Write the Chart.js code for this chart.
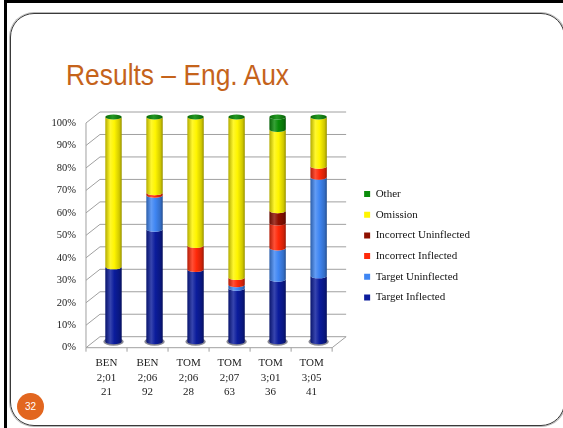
<!DOCTYPE html>
<html>
<head>
<meta charset="utf-8">
<script src="https://cdn.jsdelivr.net/npm/chart.js@4.4.1/dist/chart.umd.min.js"></script>
<style>
  html, body { margin: 0; padding: 0; background: #fff; }
  #slide { position: relative; width: 563px; height: 428px; overflow: hidden; background: #fff; }
  .edge-top { position: absolute; left: 4px; top: 0; width: 559px; height: 3px; background: #000; }
  .edge-left { position: absolute; left: 4px; top: 0; width: 3px; height: 428px; background: #000; }
  .card { position: absolute; left: 10px; top: 13px; width: 555px; height: 413px; box-sizing: border-box;
          border: 1.5px solid #3a3a3a; border-radius: 24px; box-shadow: 0 0 0 1px #b8b8b8; }
  h1 { position: absolute; left: 66px; top: 60px; margin: 0; font: normal 30px/1 "Liberation Sans", sans-serif;
       color: #C5631B; white-space: nowrap; transform: scaleX(0.88); transform-origin: 0 0; }
  .num { position: absolute; left: 17px; top: 393px; width: 27px; height: 27px; border-radius: 50%; background: #E2661F;
         color: #fff; font: 10px/27px "Liberation Sans", sans-serif; text-align: center; }
  canvas { position: absolute; left: 0; top: 0; }
</style>
</head>
<body>
<div id="slide">
  <div class="edge-top"></div>
  <div class="edge-left"></div>
  <div class="card"></div>
  <h1>Results – Eng. Aux</h1>
  <div class="num">32</div>
  <canvas id="chart" width="563" height="428"></canvas>
</div>
<script>
// Children / session / number of contexts
const categories = [
  ['BEN', '2;01', '21'],
  ['BEN', '2;06', '92'],
  ['TOM', '2;06', '28'],
  ['TOM', '2;07', '63'],
  ['TOM', '3;01', '36'],
  ['TOM', '3;05', '41']
];

// Percentage of auxiliary contexts per response type
const targetInflected      = [33.3, 50.0, 32.1, 23.8, 27.8, 29.3];
const targetUninflected    = [0.0, 15.2, 0.0, 1.6, 13.9, 43.9];
const incorrectInflected   = [0.0, 1.1, 10.7, 3.2, 11.1, 4.9];
const incorrectUninflected = [0.0, 0.0, 0.0, 0.0, 5.5, 0.0];
const omission             = [66.7, 33.7, 57.2, 71.4, 36.1, 21.9];
const other                = [0.0, 0.0, 0.0, 0.0, 5.6, 0.0];

const yTickLabels = ['0%', '10%', '20%', '30%', '40%', '50%', '60%', '70%', '80%', '90%', '100%'];

// 3D look: back wall sits behind the front plane, cylinders half way
const WALL_DX = 14, WALL_DY = 11;
const BAR_DX = 7, BAR_DY = 6;
const CAP_RY = 2.5;

function mix(hex, t) {
  const n = parseInt(hex.slice(1), 16);
  const ch = [(n >> 16) & 255, (n >> 8) & 255, n & 255].map(c =>
    Math.round(t > 0 ? c + (255 - c) * t : c * (1 + t)));
  return `rgb(${ch[0]},${ch[1]},${ch[2]})`;
}

function bodyGradient(ctx, cx, rx, color) {
  const g = ctx.createLinearGradient(cx - rx, 0, cx + rx, 0);
  g.addColorStop(0, mix(color, -0.3));
  g.addColorStop(0.3, mix(color, 0.18));
  g.addColorStop(0.55, color);
  g.addColorStop(0.85, mix(color, -0.18));
  g.addColorStop(1, mix(color, -0.4));
  return g;
}

function drawSegment(ctx, cx, w, yTop, yBase, color) {
  const rx = w / 2;
  ctx.beginPath();
  ctx.moveTo(cx - rx, yTop);
  ctx.lineTo(cx - rx, yBase);
  ctx.ellipse(cx, yBase, rx, CAP_RY, 0, Math.PI, 0, true);
  ctx.lineTo(cx + rx, yTop);
  ctx.ellipse(cx, yTop, rx, CAP_RY, 0, 0, Math.PI, false);
  ctx.closePath();
  ctx.fillStyle = bodyGradient(ctx, cx, rx, color);
  ctx.fill();
}

const cylinders3d = {
  id: 'cylinders3d',
  beforeDatasetsDraw(chart) {
    const { ctx, chartArea: a, scales: { x, y } } = chart;
    const y0 = y.getPixelForValue(0);
    ctx.save();

    // back wall gridlines with their slanted returns to the front edge
    ctx.strokeStyle = '#a0a0a0';
    ctx.lineWidth = 1;
    y.ticks.forEach(t => {
      const py = y.getPixelForValue(t.value);
      ctx.beginPath();
      ctx.moveTo(a.left, py);
      ctx.lineTo(a.left + WALL_DX, py - WALL_DY);
      ctx.lineTo(a.right + WALL_DX, py - WALL_DY);
      ctx.stroke();
    });
    // left front edge
    ctx.beginPath();
    ctx.moveTo(a.left, y.getPixelForValue(100));
    ctx.lineTo(a.left, y0);
    ctx.stroke();
    // floor front edge and right return
    ctx.beginPath();
    ctx.moveTo(a.left, y0);
    ctx.lineTo(a.right, y0);
    ctx.lineTo(a.right + WALL_DX, y0 - WALL_DY);
    ctx.stroke();
    // category tick marks under the floor edge
    const n = chart.data.labels.length;
    const step = (x.getPixelForValue(n - 1) - x.getPixelForValue(0)) / (n - 1);
    for (let k = 0; k <= n; k++) {
      const px = x.getPixelForValue(0) - step / 2 + k * step;
      ctx.beginPath();
      ctx.moveTo(px, y0);
      ctx.lineTo(px, y0 + 4);
      ctx.stroke();
    }

    // cylinders
    ctx.translate(BAR_DX, -BAR_DY);
    const sets = chart.data.datasets;
    for (let i = 0; i < n; i++) {
      const first = chart.getDatasetMeta(0).data[i];
      const cx = first.x, w = first.width;
      // shadow on the floor
      ctx.beginPath();
      ctx.ellipse(cx, first.base, w / 2 + 2, CAP_RY + 1.5, 0, 0, Math.PI * 2);
      ctx.fillStyle = 'rgba(40,40,60,0.55)';
      ctx.fill();
      sets.forEach((ds, d) => {
        const el = chart.getDatasetMeta(d).data[i];
        if (Math.abs(el.base - el.y) < 0.01) return;
        drawSegment(ctx, cx, w, el.y, el.base, ds.backgroundColor);
      });
      // top cap
      const last = chart.getDatasetMeta(sets.length - 1).data[i];
      const capColor = sets[sets.length - 1].backgroundColor;
      const g = ctx.createLinearGradient(cx - w / 2, 0, cx + w / 2, 0);
      g.addColorStop(0, mix(capColor, -0.25));
      g.addColorStop(0.45, mix(capColor, 0.1));
      g.addColorStop(1, mix(capColor, -0.3));
      ctx.beginPath();
      ctx.ellipse(cx, last.y, w / 2, CAP_RY, 0, 0, Math.PI * 2);
      ctx.fillStyle = g;
      ctx.fill();
    }
    ctx.restore();
    return false;
  }
};

const serif = '"Liberation Serif", "DejaVu Serif", serif';

new Chart(document.getElementById('chart'), {
  type: 'bar',
  data: {
    labels: categories,
    datasets: [
      { label: 'Target Inflected',      data: targetInflected,      backgroundColor: '#0B1C9C' },
      { label: 'Target Uninflected',    data: targetUninflected,    backgroundColor: '#3F86F3' },
      { label: 'Incorrect Inflected',   data: incorrectInflected,   backgroundColor: '#FF2A0A' },
      { label: 'Incorrect Uninflected', data: incorrectUninflected, backgroundColor: '#8E1000' },
      { label: 'Omission',              data: omission,             backgroundColor: '#FFF500' },
      { label: 'Other',                 data: other,                backgroundColor: '#0A8C0A' }
    ]
  },
  options: {
    responsive: false,
    animation: false,
    barPercentage: 0.5,
    categoryPercentage: 0.8,
    layout: { padding: { left: 41.5, top: 123, right: 83, bottom: 20.4 } },
    plugins: {
      tooltip: { enabled: false },
      legend: {
        position: 'right',
        align: 'start',
        reverse: true,
        maxWidth: 200,
        title: { display: true, text: ' ', font: { size: 10, lineHeight: 1 }, padding: { top: 45.8, bottom: 0 } },
        labels: {
          boxWidth: 6, boxHeight: 6, padding: 9.7,
          color: '#111',
          font: { family: serif, size: 11 }
        }
      }
    },
    scales: {
      x: {
        stacked: true,
        grid: { display: false, drawTicks: false },
        border: { display: false },
        ticks: {
          padding: 8.5, maxRotation: 0, autoSkip: false,
          color: '#222',
          font: { family: serif, size: 11, lineHeight: 1.3 }
        }
      },
      y: {
        stacked: true,
        min: 0, max: 100,
        grid: { display: false, drawTicks: false },
        border: { display: false },
        ticks: {
          stepSize: 10, padding: 10,
          color: '#222',
          font: { family: serif, size: 10.5 },
          callback: (v, i) => yTickLabels[i]
        }
      },
      depth: {
        type: 'linear',
        position: 'right',
        grid: { display: false, drawTicks: false },
        border: { display: false },
        ticks: { display: false },
        afterFit(scale) { scale.width = 22.3; }
      }
    }
  },
  plugins: [cylinders3d]
});
</script>
</body>
</html>
